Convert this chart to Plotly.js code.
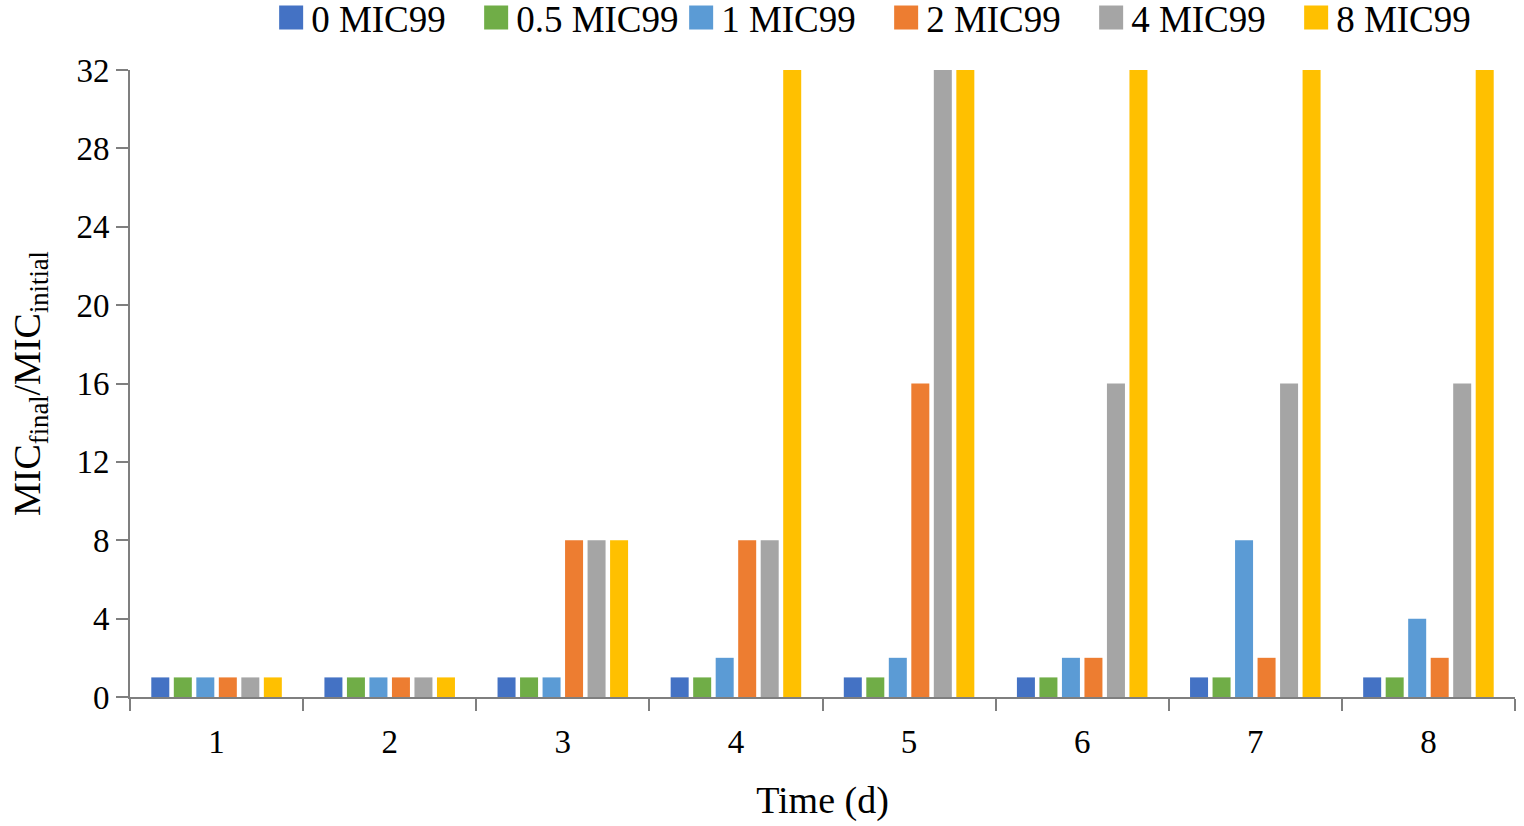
<!DOCTYPE html>
<html>
<head>
<meta charset="utf-8">
<script src="https://cdn.plot.ly/plotly-3.0.1.min.js"></script>
<style>
  html, body { margin: 0; padding: 0; background: #fff; }
  #graphDiv { width: 1524px; height: 826px; }
</style>
</head>
<body>
<div id="graphDiv"></div>
<script>
// Days on the x axis
const days = ['1', '2', '3', '4', '5', '6', '7', '8'];

// MIC fold change for each starting concentration
const mic0 = [1, 1, 1, 1, 1, 1, 1, 1];
const mic05 = [1, 1, 1, 1, 1, 1, 1, 1];
const mic1 = [1, 1, 1, 2, 2, 2, 8, 4];
const mic2 = [1, 1, 8, 8, 16, 2, 2, 2];
const mic4 = [1, 1, 8, 8, 32, 16, 16, 16];
const mic8 = [1, 1, 8, 32, 32, 32, 32, 32];

const seriesNames = ['0 MIC99', '0.5 MIC99', '1 MIC99', '2 MIC99', '4 MIC99', '8 MIC99'];
const seriesValues = [mic0, mic05, mic1, mic2, mic4, mic8];
const colors = ['#4472C4', '#70AD47', '#5B9BD5', '#ED7D31', '#A5A5A5', '#FFC000'];

const yTicks = [0, 4, 8, 12, 16, 20, 24, 28, 32];

const font = "'Liberation Serif', 'Times New Roman', serif";
const axisColor = '#7f7f7f';

const data = seriesNames.map((name, i) => ({
	type: 'bar',
	name: name,
	x: days,
	y: seriesValues[i],
	marker: { color: colors[i] },
}));

const layout = {
	width: 1524,
	height: 826,
	margin: { l: 130, r: 9, t: 70, b: 129, autoexpand: false },
	paper_bgcolor: '#fff',
	plot_bgcolor: '#fff',
	font: { family: font, size: 33, color: '#000' },
	barmode: 'group',
	bargap: 0.22,
	bargroupgap: 0.2,
	showlegend: true,
	legend: {
		orientation: 'h',
		x: 0.99,
		xanchor: 'right',
		y: 1.083,
		yanchor: 'middle',
		entrywidth: 160,
		entrywidthmode: 'pixels',
		font: { family: font, size: 37, color: '#000' },
	},
	xaxis: {
		type: 'category',
		tickvals: days,
		showline: true,
		linecolor: axisColor,
		linewidth: 2,
		ticks: 'outside',
		tickson: 'boundaries',
		ticklen: 12,
		tickwidth: 2,
		tickcolor: axisColor,
		ticklabelstandoff: 14,
		showgrid: false,
		zeroline: false,
		tickfont: { family: font, size: 33, color: '#000' },
		title: { text: 'Time (d)', font: { family: font, size: 38, color: '#000' }, standoff: 28 },
	},
	yaxis: {
		range: [0, 32],
		tickvals: yTicks,
		showline: true,
		linecolor: axisColor,
		linewidth: 2,
		ticks: 'outside',
		ticklen: 12,
		tickwidth: 2,
		tickcolor: axisColor,
		showgrid: false,
		zeroline: false,
		tickfont: { family: font, size: 33, color: '#000' },
		title: {
			text: 'MIC<sub>final</sub>/MIC<sub>initial</sub>',
			font: { family: font, size: 38, color: '#000' },
			standoff: 24,
		},
	},
};

Plotly.newPlot('graphDiv', data, layout, { displayModeBar: false, staticPlot: true }).then(() => {
	// legend squares are bigger in the original
	document.querySelectorAll('.legendpoints path').forEach((p) => {
		const t = p.getAttribute('transform') || '';
		p.setAttribute('transform', t + ' scale(2)');
	});
});
</script>
</body>
</html>
